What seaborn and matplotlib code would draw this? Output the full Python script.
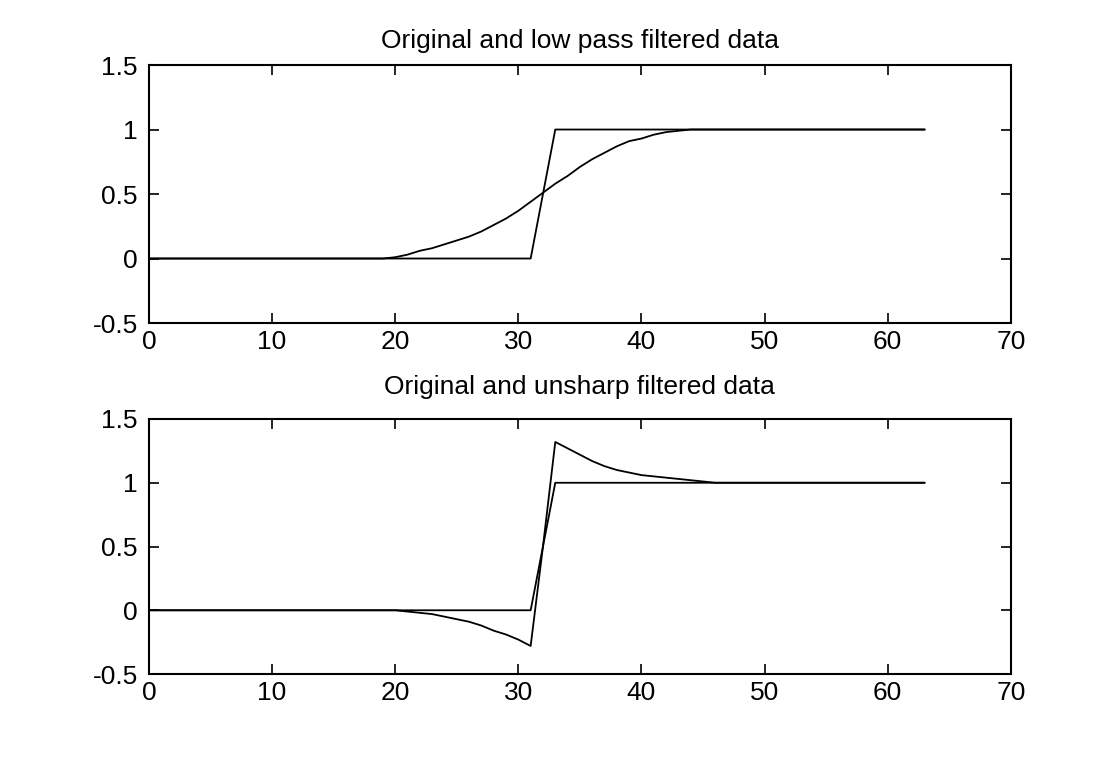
import numpy as np
import seaborn as sns
import matplotlib.pyplot as plt

sns.set_style("ticks")
plt.rcParams["font.family"] = ["Liberation Sans", "DejaVu Sans"]
plt.rcParams["xtick.direction"] = "in"
plt.rcParams["ytick.direction"] = "in"
plt.rcParams["xtick.top"] = True
plt.rcParams["ytick.right"] = True
plt.rcParams["text.color"] = "black"
plt.rcParams["axes.edgecolor"] = "black"
plt.rcParams["xtick.color"] = "black"
plt.rcParams["ytick.color"] = "black"

# sample index 0..63
x = np.arange(64)

# original step signal
original = [0.0] * 32 + [0.5] + [1.0] * 31

# low pass filtered
low_pass = ([0.0] * 20
    + [0.01, 0.03, 0.06, 0.08, 0.11, 0.14, 0.17, 0.21, 0.26, 0.31,
       0.37, 0.44, 0.51, 0.58, 0.64, 0.71, 0.77, 0.82, 0.87, 0.91,
       0.93, 0.96, 0.98, 0.99, 1.0]
    + [1.0] * 19)

# unsharp filtered
unsharp = ([0.0] * 21
    + [-0.01, -0.02, -0.03, -0.05, -0.07, -0.09, -0.12, -0.16, -0.19,
       -0.23, -0.28]
    + [0.5, 1.32, 1.27, 1.22, 1.17, 1.13, 1.10, 1.08, 1.06, 1.05,
       1.04, 1.03, 1.02, 1.01]
    + [1.0] * 18)

titles = ["Original and low pass filtered data",
          "Original and unsharp filtered data"]
xticks = [0, 10, 20, 30, 40, 50, 60, 70]
yticks = [-0.5, 0, 0.5, 1, 1.5]
ytick_labels = ["-0.5", "0", "0.5", "1", "1.5"]

fig = plt.figure(figsize=(11.05, 7.57), dpi=100)
ax_top = fig.add_axes([0.1348, 0.5733, 0.780, 0.3408])
ax_bot = fig.add_axes([0.1348, 0.1096, 0.780, 0.3369])

panels = [(ax_top, low_pass, titles[0], 12), (ax_bot, unsharp, titles[1], 18)]
for ax, filtered, title, pad in panels:
    sns.lineplot(x=x, y=original, ax=ax, color="k", linewidth=1.3)
    sns.lineplot(x=x, y=filtered, ax=ax, color="k", linewidth=1.3)
    ax.set_xlim(0, 70)
    ax.set_ylim(-0.5, 1.5)
    ax.set_xticks(xticks)
    ax.set_yticks(yticks)
    ax.set_yticklabels(ytick_labels)
    ax.tick_params(labelsize=19, length=7, width=1.2)
    ax.tick_params(axis="x", pad=5)
    ax.tick_params(axis="y", pad=8)
    for sp in ax.spines.values():
        sp.set_linewidth(1.5)
    ax.set_title(title, fontsize=19, pad=pad)

plt.savefig("out.png", dpi=100)
plt.close()
